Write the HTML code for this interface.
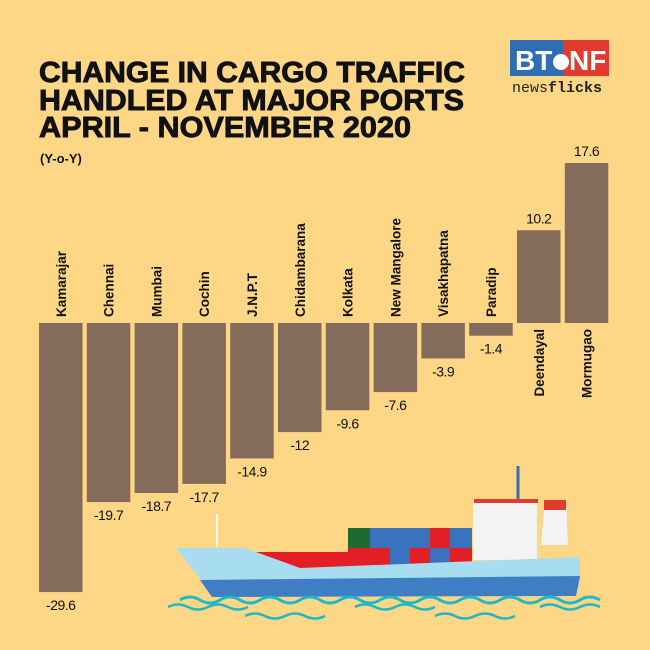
<!DOCTYPE html>
<html><head><meta charset="utf-8"><style>
html,body{margin:0;padding:0;background:#fdd686;}
svg{display:block;}
</style></head><body>
<svg width="650" height="650" viewBox="0 0 650 650">
<rect width="650" height="650" fill="#fdd686"/>
<g font-family="'Liberation Sans Narrow','Liberation Sans',sans-serif" font-weight="bold" font-size="29" fill="#111" stroke="#111" stroke-width="0.9">
<text x="39" y="82" textLength="426" lengthAdjust="spacingAndGlyphs">CHANGE IN CARGO TRAFFIC</text>
<text x="39" y="110" textLength="425" lengthAdjust="spacingAndGlyphs">HANDLED AT MAJOR PORTS</text>
<text x="39" y="137" textLength="372" lengthAdjust="spacingAndGlyphs">APRIL - NOVEMBER 2020</text>
</g>
<text x="40" y="163" font-family="'Liberation Sans',sans-serif" font-weight="bold" font-size="13" fill="#111">(Y-o-Y)</text>
<g>
<rect x="510" y="40" width="53" height="36" fill="#2f6db5"/>
<rect x="563" y="40" width="46" height="36" fill="#e03b2e"/>
<text x="515" y="70" font-family="'Liberation Sans',sans-serif" font-weight="bold" font-size="28" fill="#fff">BT</text>
<circle cx="561" cy="62" r="8" fill="#fff"/>
<text x="569" y="70" font-family="'Liberation Sans',sans-serif" font-weight="bold" font-size="28" fill="#fff">NF</text>
<text x="512" y="92" font-family="'Liberation Mono',monospace" font-size="15" fill="#222">news<tspan font-weight="bold">flicks</tspan></text>
</g>
<g id="bars"></g>
<g>
<line x1="217" y1="514" x2="217" y2="547" stroke="#fff" stroke-width="2"/>
<line x1="518" y1="466" x2="518" y2="500" stroke="#3a6fb0" stroke-width="3"/>
<rect x="473" y="500" width="64" height="60" fill="#f3f3f3"/>
<rect x="474" y="499" width="64" height="4" fill="#e03b2e"/>
<polygon points="545,500 566,500 568,545 541,545" fill="#f3f3f3"/>
<rect x="544" y="500" width="22" height="10" fill="#e03b2e"/>
<rect x="348" y="528" width="22" height="20" fill="#1e6b30"/>
<rect x="370" y="528" width="60" height="20" fill="#3a72bd"/>
<rect x="430" y="528" width="20" height="20" fill="#e31e24"/>
<rect x="450" y="528" width="22" height="20" fill="#3a72bd"/>
<rect x="348" y="548" width="42" height="20" fill="#e31e24"/>
<rect x="390" y="548" width="20" height="20" fill="#3a72bd"/>
<rect x="410" y="548" width="20" height="20" fill="#e31e24"/>
<rect x="430" y="548" width="20" height="20" fill="#3a72bd"/>
<rect x="450" y="548" width="22" height="20" fill="#e31e24"/>
<rect x="252" y="552" width="96" height="16" fill="#e31e24"/>
<polygon points="176,548 245,548 300,568 580,557 580,587 205,585" fill="#a8ddf0"/>
<polygon points="200,580 580,576 576,596 212,597" fill="#3f7ec4"/>
<path d="M180,600 q10,-6 20,0 t20,0 t20,0 t20,0 t20,0 t20,0 t20,0 t20,0 t20,0 t20,0 t20,0 t20,0 t20,0 t20,0 t20,0 t20,0 t20,0 t20,0 t20,0 t20,0 t20,0" fill="none" stroke="#1fb8c8" stroke-width="3"/>
<path d="M168,607 q10,-5 20,0 t20,0 t20,0 t20,0 M245,616 q10,-5 20,0 t20,0 t20,0 t20,0 M355,607 q10,-5 20,0 t20,0 t20,0 t20,0 M435,616 q10,-5 20,0 t20,0 t20,0 t20,0 M540,607 q10,-5 20,0 t20,0 t20,0" fill="none" stroke="#1fb8c8" stroke-width="2.5"/>
</g>
<script>
const ports=["Kamarajar","Chennai","Mumbai","Cochin","J.N.P.T","Chidambarana","Kolkata","New Mangalore","Visakhapatna","Paradip","Deendayal","Mormugao"];
const changes=[-29.6,-19.7,-18.7,-17.7,-14.9,-12,-9.6,-7.6,-3.9,-1.4,10.2,17.6];
const valueLabels=["-29.6","-19.7","-18.7","-17.7","-14.9","-12","-9.6","-7.6","-3.9","-1.4","10.2","17.6"];
const NS="http://www.w3.org/2000/svg";
const zeroY=323, scale=9.09, x0=39, step=47.8, bw=43.5;
const xPos=i=>x0+i*step;
const yPos=v=>zeroY-v*scale;
const g=document.getElementById('bars');
ports.forEach((p,i)=>{
  const v=changes[i], x=xPos(i), y=Math.min(yPos(v),zeroY), h=Math.abs(yPos(v)-zeroY);
  const r=document.createElementNS(NS,'rect');
  r.setAttribute('x',x);r.setAttribute('y',y);r.setAttribute('width',bw);r.setAttribute('height',h);r.setAttribute('fill','#856b5a');
  
  
  g.appendChild(r);
  const t=document.createElementNS(NS,'text');
  const cx=x+bw/2;
  t.setAttribute('font-family',"'Liberation Sans',sans-serif");
  t.setAttribute('font-size','14');t.setAttribute('fill','#111');t.setAttribute('text-anchor','middle');
  t.setAttribute('letter-spacing','-0.5');
  if(v<0){t.setAttribute('x',cx);t.setAttribute('y',yPos(v)+18);}
  else{t.setAttribute('x',cx);t.setAttribute('y',yPos(v)-7);}
  t.textContent=valueLabels[i];
  
  
  g.appendChild(t);
  const l=document.createElementNS(NS,'text');
  l.setAttribute('font-family',"'Liberation Sans',sans-serif");
  l.setAttribute('font-weight','bold');l.setAttribute('font-size','13.5');l.setAttribute('fill','#111');
  if(v<0){l.setAttribute('transform','translate('+(cx+5)+',317) rotate(-90)');}
  else{l.setAttribute('transform','translate('+(cx+5)+',329) rotate(-90)');l.setAttribute('text-anchor','end');}
  l.textContent=p;
  
  
  g.appendChild(l);
});
</script>
</svg>
</body></html>
